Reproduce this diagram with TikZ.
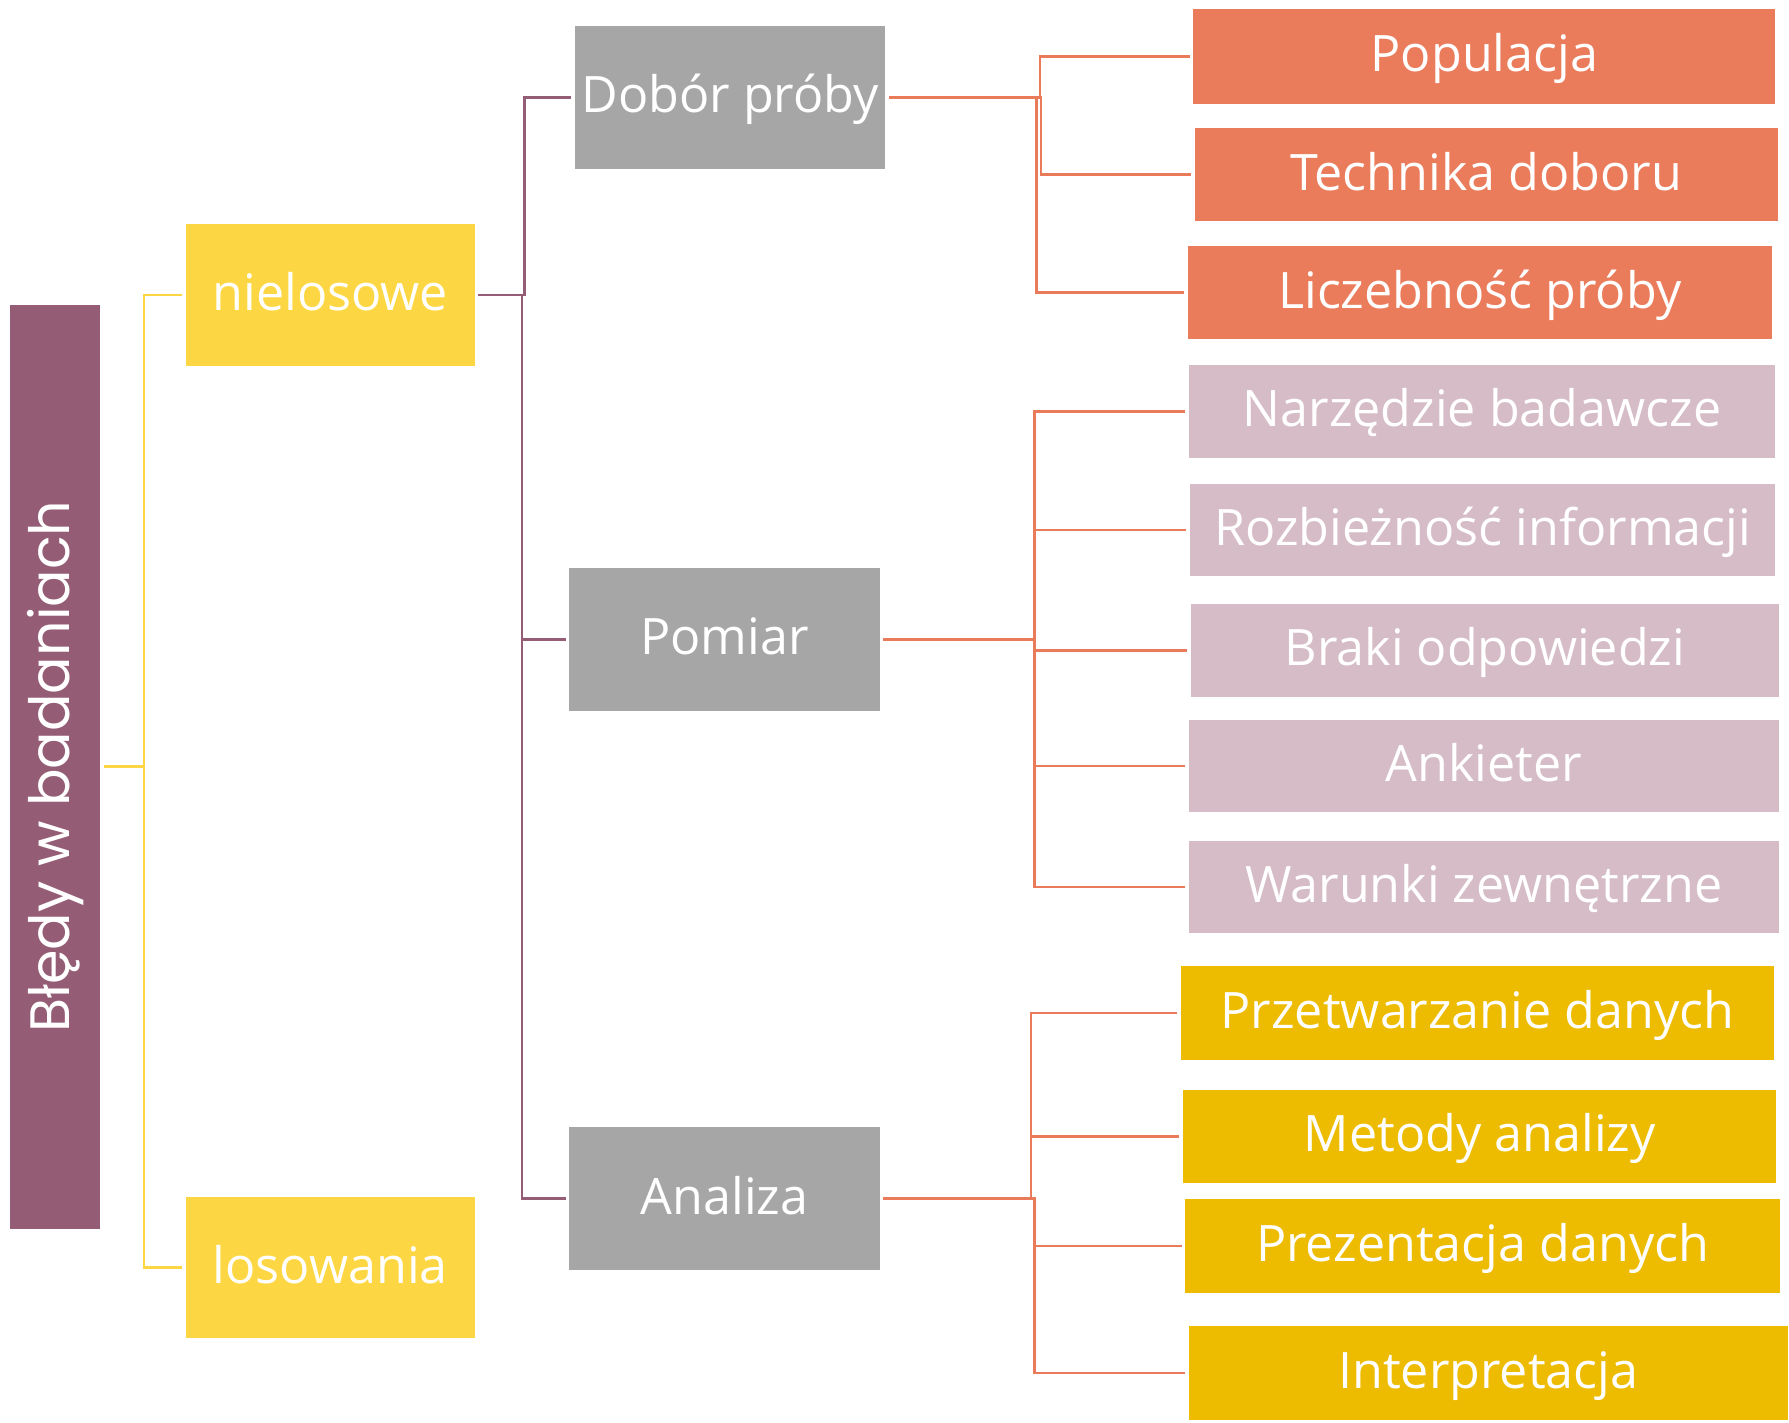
\documentclass[tikz,border=0pt]{standalone}
\usepackage{fontspec}
\setmainfont{Open Sans}
\newfontfamily\rootfont{Poppins}
\definecolor{cRoot}{HTML}{955D75}
\definecolor{cYel}{HTML}{FDD743}
\definecolor{cGrey}{HTML}{A6A6A6}
\definecolor{cOra}{HTML}{EB7C5B}
\definecolor{cLine}{HTML}{E97B5A}
\definecolor{cMauve}{HTML}{D5BCC6}
\definecolor{cGold}{HTML}{EDBB00}
\begin{document}
\begin{tikzpicture}[x=0.01141cm,y=-0.01141cm,
  bx/.style={rectangle, inner sep=0pt, text=white, font=\fontsize{14.3}{16}\selectfont, text height=0.88em, text depth=0pt},
  sz/.style 2 args={minimum width=#1*0.01141cm, minimum height=#2*0.01141cm},
  con/.style={line width=0.7pt, shorten <=0.3mm, shorten >=0.3mm}]
\useasboundingbox (0,0) rectangle (1568,1247);
% nodes
\node[rectangle, inner sep=0pt, text=white, fill=cRoot, sz={79}{810}, font=\rootfont\fontsize{15.8}{17}\selectfont] (root) at (48.5,672) {\rotatebox{90}{Błędy w badaniach}};
\node[bx, fill=cYel, sz={253}{125}] (niel) at (289.5,258.5) {nielosowe};
\node[bx, fill=cYel, sz={253}{124}] (los) at (289.5,1111) {losowania};
\node[bx, fill=cGrey, sz={272}{125}] (dob) at (640,85.5) {Dobór próby};
\node[bx, fill=cGrey, sz={272}{125}] (pom) at (635,560.5) {Pomiar};
\node[bx, fill=cGrey, sz={272}{125}] (ana) at (635,1050.5) {Analiza};
\node[bx, fill=cOra, sz={510}{83}] (pop) at (1301,49.5) {Populacja};
\node[bx, fill=cOra, sz={511}{81}] (tec) at (1302.5,153) {Technika doboru};
\node[bx, fill=cOra, sz={512}{81}] (lic) at (1297,256.5) {Liczebność próby};
\node[bx, fill=cMauve, sz={514}{81}] (narz) at (1299,360.5) {Narzędzie badawcze};
\node[bx, fill=cMauve, sz={513}{81}] (rozb) at (1299.5,464.5) {Rozbieżność informacji};
\node[bx, fill=cMauve, sz={515}{81}] (brak) at (1301.5,570) {Braki odpowiedzi};
\node[bx, fill=cMauve, sz={517}{81}] (ank) at (1300.5,671.5) {Ankieter};
\node[bx, fill=cMauve, sz={517}{81}] (war) at (1300.5,777.5) {Warunki zewnętrzne};
\node[bx, fill=cGold, sz={520}{82}] (prz) at (1295,888) {Przetwarzanie danych};
\node[bx, fill=cGold, sz={520}{82}] (met) at (1297,996) {Metody analizy};
\node[bx, fill=cGold, sz={521}{82}] (pre) at (1299.5,1092) {Prezentacja danych};
\node[bx, fill=cGold, sz={525}{83}] (int) at (1304.5,1203.5) {Interpretacja};
% connectors
\draw[con, cYel] (root.east) -- ++(37.5,0) |- (niel.west);
\draw[con, cYel] (root.east) -- ++(37.5,0) |- (los.west);
\draw[con, cRoot] (niel.east) -- ++(43,0) |- (dob.west);
\draw[con, cRoot] (niel.east) -- ++(41,0) |- (pom.west);
\draw[con, cRoot] (niel.east) -- ++(41,0) |- (ana.west);
\draw[con, cLine] (dob.east) -- ++(135,0) |- (pop.west);
\draw[con, cLine] (dob.east) -- ++(136,0) |- (tec.west);
\draw[con, cLine] (dob.east) -- ++(132,0) |- (lic.west);
\foreach \c in {narz,rozb,brak,ank,war}
  \draw[con, cLine] (pom.east) -- ++(135,0) |- (\c.west);
\draw[con, cLine] (ana.east) -- ++(132,0) |- (prz.west);
\draw[con, cLine] (ana.east) -- ++(132,0) |- (met.west);
\draw[con, cLine] (ana.east) -- ++(135,0) |- (pre.west);
\draw[con, cLine] (ana.east) -- ++(135,0) |- (int.west);
\end{tikzpicture}
\end{document}
